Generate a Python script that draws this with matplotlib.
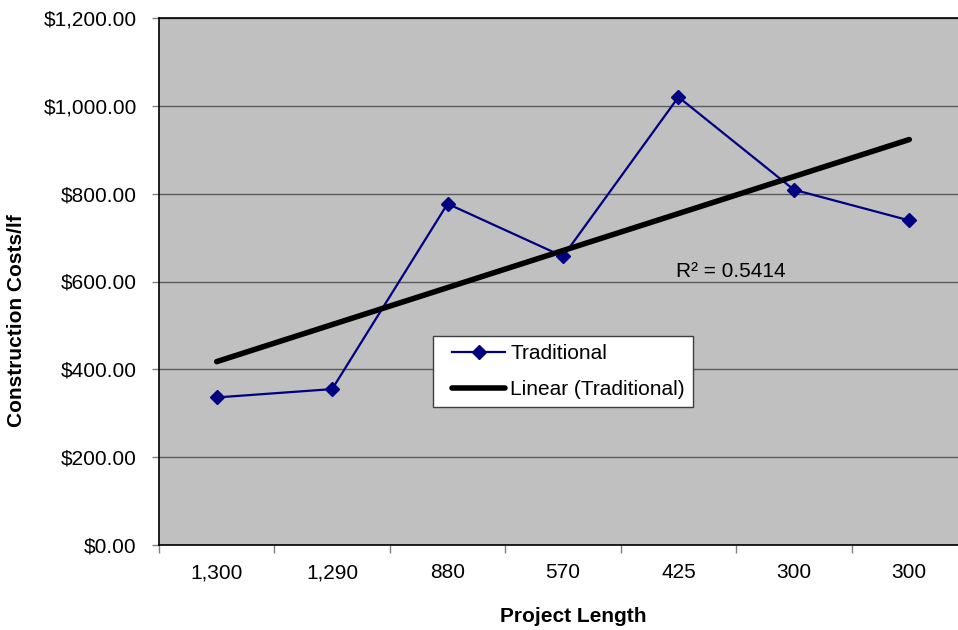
import numpy as np
import matplotlib.pyplot as plt
from matplotlib.ticker import FuncFormatter, FixedLocator
from matplotlib.lines import Line2D
from matplotlib.legend_handler import HandlerLine2D

plt.rcParams['font.family'] = ['Liberation Sans', 'DejaVu Sans']

# ============ data ============
project_lengths = ['1,300', '1,290', '880', '570', '425', '300', '300']
costs_traditional = [336, 355, 777, 657, 1020, 809, 739]

x = np.arange(len(project_lengths))
coef = np.polyfit(x, costs_traditional, 1)
trend = np.polyval(coef, x)

# ============ figure ============
fig = plt.figure(figsize=(9.58, 6.30), dpi=100)
ax = fig.add_axes([159 / 958, 85 / 630, 808 / 958, 527 / 630])
ax.set_facecolor('#C0C0C0')

ax.plot(x, costs_traditional, color='#000080', lw=1.6, marker='D',
        markersize=7, label='Traditional', zorder=3)
ax.plot(x, trend, color='black', lw=4, solid_capstyle='round',
        label='Linear (Traditional)', zorder=4)

ax.set_xlim(-0.5, len(project_lengths) - 0.5)
ax.set_ylim(0, 1200)

# y axis
ax.set_yticks(np.arange(0, 1201, 200))
ax.yaxis.set_major_formatter(FuncFormatter(lambda v, p: '${:,.2f}'.format(v)))
ax.grid(axis='y', color='#5a5a5a', lw=1)
ax.set_axisbelow(True)
ax.tick_params(axis='y', direction='out', length=5, width=1, color='#808080',
               pad=11, labelsize=15)

# x axis: labels at centres, tick marks between categories
ax.set_xticks(x)
ax.set_xticklabels(project_lengths)
ax.xaxis.set_minor_locator(FixedLocator(np.arange(-0.5, len(project_lengths), 1)))
ax.tick_params(axis='x', which='major', length=0, pad=13, labelsize=15)
ax.tick_params(axis='x', which='minor', direction='out', length=6, width=1,
               color='#808080')

for side in ['left', 'bottom', 'top']:
    ax.spines[side].set_color('black')
    ax.spines[side].set_linewidth(1.2)
ax.spines['right'].set_visible(False)

ax.set_xlabel('Project Length', fontsize=15, fontweight='bold')
ax.xaxis.set_label_coords(0.513, -0.118)
ax.set_ylabel('Construction Costs/lf', fontsize=15, fontweight='bold')
ax.yaxis.set_label_coords(-0.1646, 0.426)

leg = ax.legend(loc='upper left', bbox_to_anchor=(433 / 958, 1 - 336 / 630),
                bbox_transform=fig.transFigure, fontsize=15, frameon=True,
                fancybox=False, borderaxespad=0, handlelength=3.07,
                labelspacing=0.8, handletextpad=0.24, borderpad=0.4,
                handler_map={Line2D: HandlerLine2D(xpad=0.5)})
leg.get_frame().set_edgecolor('#404040')
leg.get_frame().set_linewidth(1)
leg.get_frame().set_facecolor('white')
leg.get_frame().set_alpha(1)

fig.text(676 / 958, 1 - 277 / 630, 'R² = 0.5414', fontsize=15,
         va='baseline', ha='left')

plt.savefig('out.png', dpi=100)
